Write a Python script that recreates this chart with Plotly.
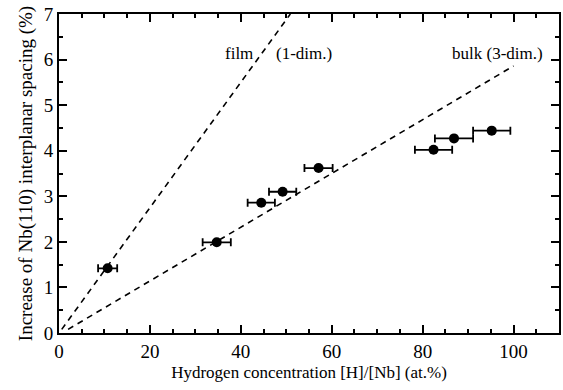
import plotly.graph_objects as go

# Data
h_conc = [10.7, 34.7, 44.5, 49.2, 57.1, 82.4, 86.9, 95.2]
spacing = [1.42, 1.99, 2.86, 3.10, 3.62, 4.02, 4.27, 4.44]
h_err = [2.1, 3.1, 3.0, 3.0, 3.1, 4.1, 4.2, 4.1]

film_x = [0.6, 50.9]
film_y = [0.08, 7.0]
bulk_x = [2.0, 100.0]
bulk_y = [0.08, 5.86]

x_ticks = [0, 20, 40, 60, 80, 100]
y_ticks = [0, 1, 2, 3, 4, 5, 6, 7]

FONT = "Liberation Serif"

fig = go.Figure()
fig.add_trace(go.Scatter(x=film_x, y=film_y, mode="lines",
                         line=dict(color="black", width=1.6, dash="6px,5px"),
                         showlegend=False, hoverinfo="skip"))
fig.add_trace(go.Scatter(x=bulk_x, y=bulk_y, mode="lines",
                         line=dict(color="black", width=1.6, dash="6px,5px"),
                         showlegend=False, hoverinfo="skip"))
fig.add_trace(go.Scatter(x=h_conc, y=spacing, mode="markers",
                         marker=dict(color="black", size=10),
                         error_x=dict(type="data", array=h_err, color="black",
                                      thickness=1.8, width=4),
                         showlegend=False))

fig.add_annotation(x=36.0, y=6.14, text="film", showarrow=False,
                   xanchor="left", font=dict(family=FONT, size=17, color="black"))
fig.add_annotation(x=47.2, y=6.14, text="(1-dim.)", showarrow=False,
                   xanchor="left", font=dict(family=FONT, size=17, color="black"))
fig.add_annotation(x=86.0, y=6.14, text="bulk (3-dim.)", showarrow=False,
                   xanchor="left", font=dict(family=FONT, size=17, color="black"))

axis_common = dict(showgrid=False, zeroline=False, showline=True, linecolor="black",
                   linewidth=2, mirror="ticks", ticks="inside", ticklen=8,
                   tickwidth=1.5, tickcolor="black", automargin=False,
                   tickfont=dict(family=FONT, size=19, color="black"))

fig.update_xaxes(range=[0, 110], tickvals=x_ticks, ticktext=[str(v) for v in x_ticks],
                 title=dict(text="Hydrogen concentration [H]/[Nb] (at.%)",
                            font=dict(family=FONT, size=17, color="black"), standoff=5),
                 minor=dict(ticks="inside", dtick=5, tick0=0, ticklen=4,
                            tickwidth=1.5, tickcolor="black"),
                 **axis_common)
fig.update_yaxes(range=[0, 7], tickvals=y_ticks, ticktext=[str(v) for v in y_ticks],
                 title=dict(text="Increase of Nb(110) interplanar spacing (%)",
                            font=dict(family=FONT, size=19, color="black"), standoff=6),
                 minor=dict(ticks="inside", dtick=0.5, tick0=0, ticklen=4,
                            tickwidth=1.5, tickcolor="black"),
                 **axis_common)

fig.update_layout(width=563, height=390, margin=dict(l=59, r=4, t=14, b=57),
                  plot_bgcolor="white", paper_bgcolor="white",
                  font=dict(family=FONT, color="black"))

fig.write_html("out.html", config={"displayModeBar": False},
               post_script="document.body.style.margin='0';document.body.style.overflow='hidden';")
